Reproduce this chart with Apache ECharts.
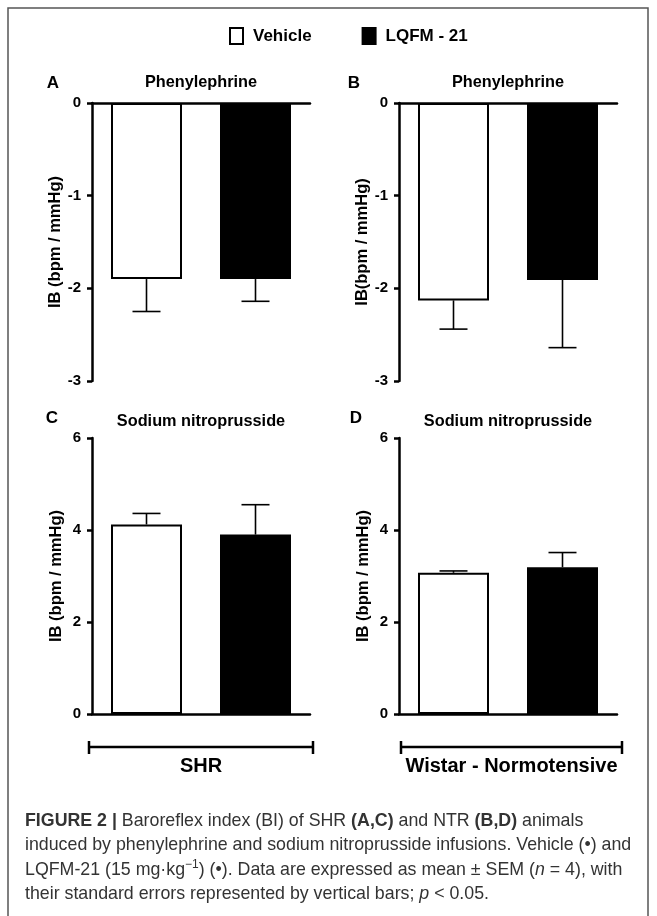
<!DOCTYPE html>
<html>
<head>
<meta charset="utf-8">
<script src="https://cdn.jsdelivr.net/npm/echarts@6/dist/echarts.min.js"></script>
<style>
html,body{margin:0;padding:0;background:#fff;}
#chart{width:657px;height:916px;}
</style>
</head>
<body>
<div id="chart"></div>
<script>
// ---- data ----
var categories = ['Vehicle', 'LQFM - 21'];
var phenylSHR = [-1.90, -1.90];
var phenylSHR_sem = [0.35, 0.24];
var phenylNTR = [-2.13, -1.91];
var phenylNTR_sem = [0.31, 0.73];
var snpSHR = [4.12, 3.90];
var snpSHR_sem = [0.24, 0.65];
var snpNTR = [3.07, 3.19];
var snpNTR_sem = [0.04, 0.32];
var yTicksPhenyl = {min: -3, max: 0, interval: 1};
var yTicksSNP = {min: 0, max: 6, interval: 2};
var panelLetters = ['A', 'B', 'C', 'D'];
var panelTitles = ['Phenylephrine', 'Phenylephrine', 'Sodium nitroprusside', 'Sodium nitroprusside'];
var yNames = ['IB (bpm / mmHg)', 'IB(bpm / mmHg)', 'IB (bpm / mmHg)', 'IB (bpm / mmHg)'];
var groupLabels = ['SHR', 'Wistar - Normotensive'];

var FONT = '"Liberation Sans", Arial, Helvetica, sans-serif';
var panels = [
  {vals: phenylSHR, sem: phenylSHR_sem, ticks: yTicksPhenyl},
  {vals: phenylNTR, sem: phenylNTR_sem, ticks: yTicksPhenyl},
  {vals: snpSHR, sem: snpSHR_sem, ticks: yTicksSNP},
  {vals: snpNTR, sem: snpNTR_sem, ticks: yTicksSNP}
];
var gridPos = [
  {left: 92, top: 103, width: 218, height: 278},
  {left: 399, top: 103, width: 218, height: 278},
  {left: 92, top: 438, width: 218, height: 276},
  {left: 399, top: 438, width: 218, height: 276}
];

var chart = echarts.init(document.getElementById('chart'), null, {renderer: 'canvas'});

var grids = [], xAxes = [], yAxes = [], series = [];
panels.forEach(function (p, i) {
  grids.push(Object.assign({containLabel: false}, gridPos[i]));
  xAxes.push({
    type: 'category', gridIndex: i, data: categories,
    axisLine: {show: true, onZero: true, lineStyle: {color: '#000', width: 2.5}},
    axisTick: {show: false}, axisLabel: {show: false}, splitLine: {show: false}
  });
  yAxes.push({
    type: 'value', gridIndex: i, min: p.ticks.min, max: p.ticks.max, interval: p.ticks.interval,
    name: yNames[i], nameLocation: 'middle', nameGap: 27, nameRotate: 90,
    nameTextStyle: {fontFamily: FONT, fontWeight: 'bold', fontSize: 16.5, color: '#000'},
    axisLine: {show: true, lineStyle: {color: '#000', width: 2.5}},
    axisTick: {show: true, length: 5, lineStyle: {color: '#000', width: 2.5}},
    axisLabel: {fontFamily: FONT, fontWeight: 'bold', fontSize: 15, color: '#000', margin: 11},
    splitLine: {show: false}
  });
  series.push({
    type: 'bar', name: categories[0], xAxisIndex: i, yAxisIndex: i,
    data: [p.vals[0], '-'], barWidth: 71, barGap: '-100%',
    itemStyle: {color: '#fff', borderColor: '#000', borderWidth: 2}, z: 2
  });
  series.push({
    type: 'bar', name: categories[1], xAxisIndex: i, yAxisIndex: i,
    data: ['-', p.vals[1]], barWidth: 71, barGap: '-100%',
    itemStyle: {color: '#000', borderColor: '#000', borderWidth: 2}, z: 2
  });
  series.push({
    type: 'custom', xAxisIndex: i, yAxisIndex: i, z: 3,
    data: p.vals.map(function (v, k) { return [k, v, p.sem[k]]; }),
    encode: {x: 0, y: 1},
    renderItem: function (params, api) {
      var k = api.value(0), v = api.value(1), s = api.value(2);
      var end = v < 0 ? v - s : v + s;
      var a = api.coord([k, v]);
      var b = api.coord([k, end]);
      var half = 14;
      return {
        type: 'group',
        children: [
          {type: 'line', shape: {x1: a[0], y1: a[1], x2: b[0], y2: b[1]}, style: {stroke: '#000', lineWidth: 1.6}},
          {type: 'line', shape: {x1: b[0] - half, y1: b[1], x2: b[0] + half, y2: b[1]}, style: {stroke: '#000', lineWidth: 1.6}}
        ]
      };
    }
  });
});

var graphics = [];
// border
graphics.push({type: 'rect', shape: {x: 8, y: 8, width: 640, height: 930}, style: {fill: 'none', stroke: '#555', lineWidth: 1.5}, silent: true});
// panel letters and titles
var letterPos = [[53, 83], [354, 83], [52, 418], [356, 418]];
var titleY = [83, 83, 422, 422];
panelLetters.forEach(function (L, i) {
  graphics.push({type: 'text', x: letterPos[i][0], y: letterPos[i][1],
    style: {text: L, font: 'bold 17px ' + FONT, fill: '#000', textAlign: 'center', textVerticalAlign: 'middle'}});
  var g = gridPos[i];
  graphics.push({type: 'text', x: g.left + g.width / 2, y: titleY[i],
    style: {text: panelTitles[i], font: 'bold 16.3px ' + FONT, fill: '#000', textAlign: 'center', textVerticalAlign: 'middle'}});
});
// group brackets
var brackets = [[89, 313], [401, 622]];
brackets.forEach(function (br, i) {
  graphics.push({type: 'line', shape: {x1: br[0], y1: 747, x2: br[1], y2: 747}, style: {stroke: '#000', lineWidth: 2.5}});
  graphics.push({type: 'line', shape: {x1: br[0], y1: 741, x2: br[0], y2: 754}, style: {stroke: '#000', lineWidth: 2.5}});
  graphics.push({type: 'line', shape: {x1: br[1], y1: 741, x2: br[1], y2: 754}, style: {stroke: '#000', lineWidth: 2.5}});
  graphics.push({type: 'text', x: (br[0] + br[1]) / 2, y: 766,
    style: {text: groupLabels[i], font: 'bold 20px ' + FONT, fill: '#000', textAlign: 'center', textVerticalAlign: 'middle'}});
});
// caption
var CAP = 17.8;
var capRich = {
  b: {fontWeight: 'bold', fontFamily: FONT, fontSize: CAP, color: '#222'},
  i: {fontStyle: 'italic', fontFamily: FONT, fontSize: CAP, color: '#333'},
  sup: {fontFamily: FONT, fontSize: 12, color: '#333', verticalAlign: 'top', lineHeight: 22}
};
var capLines = [
  '{b|FIGURE 2 |} Baroreflex index (BI) of SHR {b|(A,C)} and NTR {b|(B,D)} animals',
  'induced by phenylephrine and sodium nitroprusside infusions. Vehicle (\u2022) and',
  'LQFM-21 (15 mg\u00b7kg{sup|\u22121}) (\u2022). Data are expressed as mean \u00b1 SEM ({i|n} = 4), with',
  'their standard errors represented by vertical bars; {i|p} < 0.05.'
];
var capY = [821, 845, 870, 894];
capLines.forEach(function (t, i) {
  graphics.push({type: 'text', x: 25, y: capY[i],
    style: {text: t, fontFamily: FONT, fontSize: CAP, fill: '#333', rich: capRich, textVerticalAlign: 'middle', lineHeight: 22}});
});

chart.setOption({
  animation: false,
  backgroundColor: '#fff',
  legend: {
    top: 27, left: 229, padding: 0, itemWidth: 13, itemHeight: 16, itemGap: 50, selectedMode: false,
    data: [{name: 'Vehicle', icon: 'rect'}, {name: 'LQFM - 21', icon: 'rect'}],
    textStyle: {fontFamily: FONT, fontWeight: 'bold', fontSize: 17, color: '#000', padding: [0, 0, 0, 5]}
  },
  grid: grids, xAxis: xAxes, yAxis: yAxes, series: series,
  graphic: {elements: graphics}
});
</script>
</body>
</html>
